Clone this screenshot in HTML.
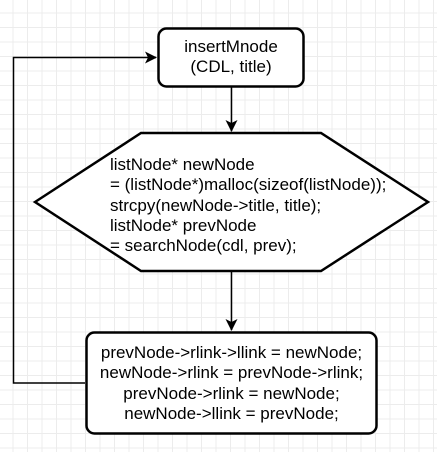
<!DOCTYPE html>
<html><head><style>
html,body{margin:0;padding:0}
body{width:437px;height:452px;overflow:hidden;background-color:#fff;
background-image:linear-gradient(#ececec 1px,transparent 1px),linear-gradient(90deg,#ececec 1px,transparent 1px);
background-size:14.5px 14.5px;background-position:-2px -2px;position:relative;font-family:"Liberation Sans",Arial,sans-serif;}
svg{position:absolute;left:0;top:0}
.t{position:absolute;font-size:17px;line-height:20.3px;color:#000;white-space:nowrap}
</style></head><body>
<svg width="437" height="452">
<defs><marker id="a" markerWidth="14" markerHeight="14" refX="11" refY="6" orient="auto" markerUnits="userSpaceOnUse"><path d="M0,0 L12,6 L0,12 L3,6 Z" fill="#000"/></marker></defs>
<rect x="158.5" y="28.5" width="145" height="58" rx="8" fill="#fff" stroke="#000" stroke-width="2.5"/>
<polygon points="35,202 141,133 321,133 428,202 321,271 141,271" fill="#fff" stroke="#000" stroke-width="2.5"/>
<rect x="86.5" y="332.5" width="290" height="101" rx="8" fill="#fff" stroke="#000" stroke-width="2.5"/>
<line x1="231.5" y1="87" x2="231.5" y2="131" stroke="#000" stroke-width="1.5" marker-end="url(#a)"/>
<line x1="231.5" y1="272" x2="231.5" y2="330" stroke="#000" stroke-width="1.5" marker-end="url(#a)"/>
<polyline points="85,383 13.5,383 13.5,57.5 156,57.5" fill="none" stroke="#000" stroke-width="1.5" marker-end="url(#a)"/>
</svg>
<div class="t" style="left:158px;width:146px;top:37px;text-align:center">insertMnode<br>(CDL, title)</div>
<div class="t" style="left:110px;top:155px">listNode* newNode<br>= (listNode*)malloc(sizeof(listNode));<br>strcpy(newNode-&gt;title, title);<br>listNode* prevNode<br>= searchNode(cdl, prev);</div>
<div class="t" style="left:86px;width:291px;top:343px;text-align:center">prevNode-&gt;rlink-&gt;llink = newNode;<br>newNode-&gt;rlink = prevNode-&gt;rlink;<br>prevNode-&gt;rlink = newNode;<br>newNode-&gt;llink = prevNode;</div>
</body></html>
